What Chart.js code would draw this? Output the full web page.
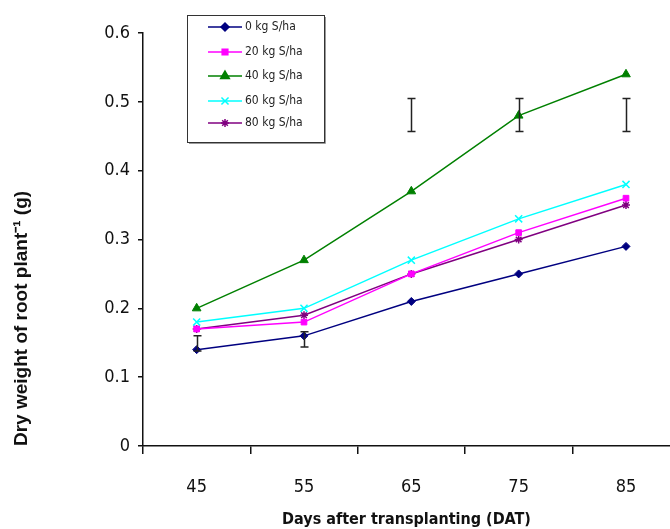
<!DOCTYPE html>
<html>
<head>
<meta charset="utf-8">
<script src="https://cdn.jsdelivr.net/npm/chart.js@4/dist/chart.umd.min.js"></script>
<style>
    html, body { margin: 0; padding: 0; background: #fff; overflow: hidden; }
    #wrap { width: 670px; height: 529px; }
</style>
</head>
<body>
<div id="wrap"><canvas id="myChart" width="670" height="529"></canvas></div>
<script>
// Sampling days (DAT)
const days = [45, 55, 65, 75, 85];

// Root dry weight (g) per sulphur dose
const s0 = [0.14, 0.16, 0.21, 0.25, 0.29];
const s20 = [0.17, 0.18, 0.25, 0.31, 0.36];
const s40 = [0.20, 0.27, 0.37, 0.48, 0.54];
const s60 = [0.18, 0.20, 0.27, 0.33, 0.38];
const s80 = [0.17, 0.19, 0.25, 0.30, 0.35];

// LSD bars for each sampling day
const errLow = [0.138, 0.144, 0.457, 0.457, 0.457];
const errHigh = [0.160, 0.166, 0.505, 0.505, 0.505];

const narrow = '"Liberation Sans Narrow", "DejaVu Sans Condensed", "Arial Narrow", sans-serif';

document.addEventListener("DOMContentLoaded", function () {
    const ctx = document.getElementById('myChart').getContext('2d');

    function toPoints(values) {
        return days.map((d, i) => ({ x: d, y: values[i] }));
    }

    function series(label, values, color, style, radius) {
        return {
            label: label,
            data: toPoints(values),
            borderColor: color,
            backgroundColor: color,
            borderWidth: 1.5,
            pointStyle: style,
            pointRadius: radius,
            pointBorderWidth: style === 'crossRot' || style === 'star' ? 1.5 : 1,
            tension: 0,
        };
    }

    // vertical bars with small caps, drawn over the lines
    const lsdBars = {
        id: 'lsdBars',
        afterDatasetsDraw(chart) {
            const c = chart.ctx;
            const xs = chart.scales.x;
            const ys = chart.scales.y;
            c.save();
            c.strokeStyle = '#222';
            c.lineWidth = 1.5;
            days.forEach((d, i) => {
                const x = Math.round(xs.getPixelForValue(d)) + 0.5;
                const y1 = ys.getPixelForValue(errHigh[i]);
                const y2 = ys.getPixelForValue(errLow[i]);
                c.beginPath();
                c.moveTo(x, y1);
                c.lineTo(x, y2);
                c.moveTo(x - 4, y1);
                c.lineTo(x + 4, y1);
                c.moveTo(x - 4, y2);
                c.lineTo(x + 4, y2);
                c.stroke();
            });
            c.restore();
        }
    };

    // boxed legend sitting inside the plot
    const boxLegend = {
        id: 'boxLegend',
        afterDraw(chart) {
            const c = chart.ctx;
            const left = 187, top = 15, w = 137, h = 127;
            const rows = [27, 52, 76, 101, 123];
            c.save();
            c.fillStyle = '#fff';
            c.fillRect(left, top, w, h);
            c.strokeStyle = '#333';
            c.lineWidth = 1;
            c.strokeRect(left + 0.5, top + 0.5, w, h);
            c.strokeStyle = '#999';
            c.beginPath();
            c.moveTo(left + w + 1.5, top + 2);
            c.lineTo(left + w + 1.5, top + h + 1.5);
            c.lineTo(left + 2, top + h + 1.5);
            c.stroke();
            c.font = '12px ' + narrow;
            c.textBaseline = 'middle';
            c.textAlign = 'left';
            chart.data.datasets.forEach((ds, i) => {
                const y = rows[i];
                c.strokeStyle = ds.borderColor;
                c.lineWidth = 1.5;
                c.beginPath();
                c.moveTo(208, y);
                c.lineTo(242, y);
                c.stroke();
                c.fillStyle = ds.backgroundColor;
                Chart.helpers.drawPoint(c, {
                    pointStyle: ds.pointStyle,
                    radius: ds.pointRadius,
                    rotation: 0,
                    borderWidth: ds.pointBorderWidth
                }, 225, y);
                c.fillStyle = '#222';
                c.fillText(ds.label, 245, y);
            });
            c.restore();
        }
    };

    const myChart = new Chart(ctx, {
        type: 'line',
        data: {
            datasets: [
                series('0 kg S/ha', s0, '#000080', 'rectRot', 4),
                series('20 kg S/ha', s20, '#ff00ff', 'rect', 4),
                series('40 kg S/ha', s40, '#008000', 'triangle', 5),
                series('60 kg S/ha', s60, '#00ffff', 'crossRot', 5),
                series('80 kg S/ha', s80, '#800080', 'star', 4),
            ],
        },
        options: {
            responsive: false,
            animation: false,
            // no auto padding so the x axis runs to the right edge
            layout: { autoPadding: false, padding: { top: 33, right: 0, left: 0, bottom: 0 } },
            plugins: {
                legend: { display: false },
                tooltip: { enabled: false },
            },
            scales: {
                x: {
                    type: 'linear',
                    min: 40,
                    max: 89.1,
                    // marks at 40, 50, ... and labels in between
                    afterBuildTicks: (scale) => {
                        const ticks = [];
                        days.forEach(d => {
                            ticks.push({ value: d - 5 });
                            ticks.push({ value: d });
                        });
                        scale.ticks = ticks;
                    },
                    afterFit: (scale) => {
                        scale.height = 83;
                        scale.paddingLeft = 0;
                        scale.paddingRight = 0;
                    },
                    border: { display: true, color: '#111', width: 1.5 },
                    grid: {
                        drawOnChartArea: false,
                        drawTicks: true,
                        tickLength: 8,
                        lineWidth: 1.5,
                        color: (c) => (c.tick && days.includes(c.tick.value)) ? 'rgba(0,0,0,0)' : '#111',
                    },
                    ticks: {
                        padding: 23,
                        maxRotation: 0,
                        autoSkip: false,
                        color: '#111',
                        font: { family: narrow, size: 18 },
                        callback: (v) => days.includes(v) ? String(v) : '',
                    },
                    title: {
                        display: true,
                        text: 'Days after transplanting (DAT)',
                        color: '#111',
                        font: { family: narrow, size: 16, weight: 'bold' },
                        padding: { top: 9, bottom: 0 },
                    },
                },
                y: {
                    min: 0,
                    max: 0.6,
                    afterFit: (scale) => { scale.width = 143; },
                    border: { display: true, color: '#111', width: 1.5 },
                    grid: {
                        drawOnChartArea: false,
                        drawTicks: true,
                        tickLength: 5,
                        lineWidth: 1.5,
                        color: '#111',
                    },
                    ticks: {
                        stepSize: 0.1,
                        padding: 8,
                        color: '#111',
                        font: { family: narrow, size: 18 },
                    },
                    title: {
                        display: true,
                        text: 'Dry weight of root plant⁻¹ (g)',
                        align: 'start',
                        color: '#111',
                        font: { family: '"Liberation Sans", Arial, sans-serif', size: 19, weight: 'bold' },
                        padding: { top: 10, bottom: 0 },
                    },
                },
            },
        },
        plugins: [lsdBars, boxLegend],
    });
});
</script>
</body>
</html>
